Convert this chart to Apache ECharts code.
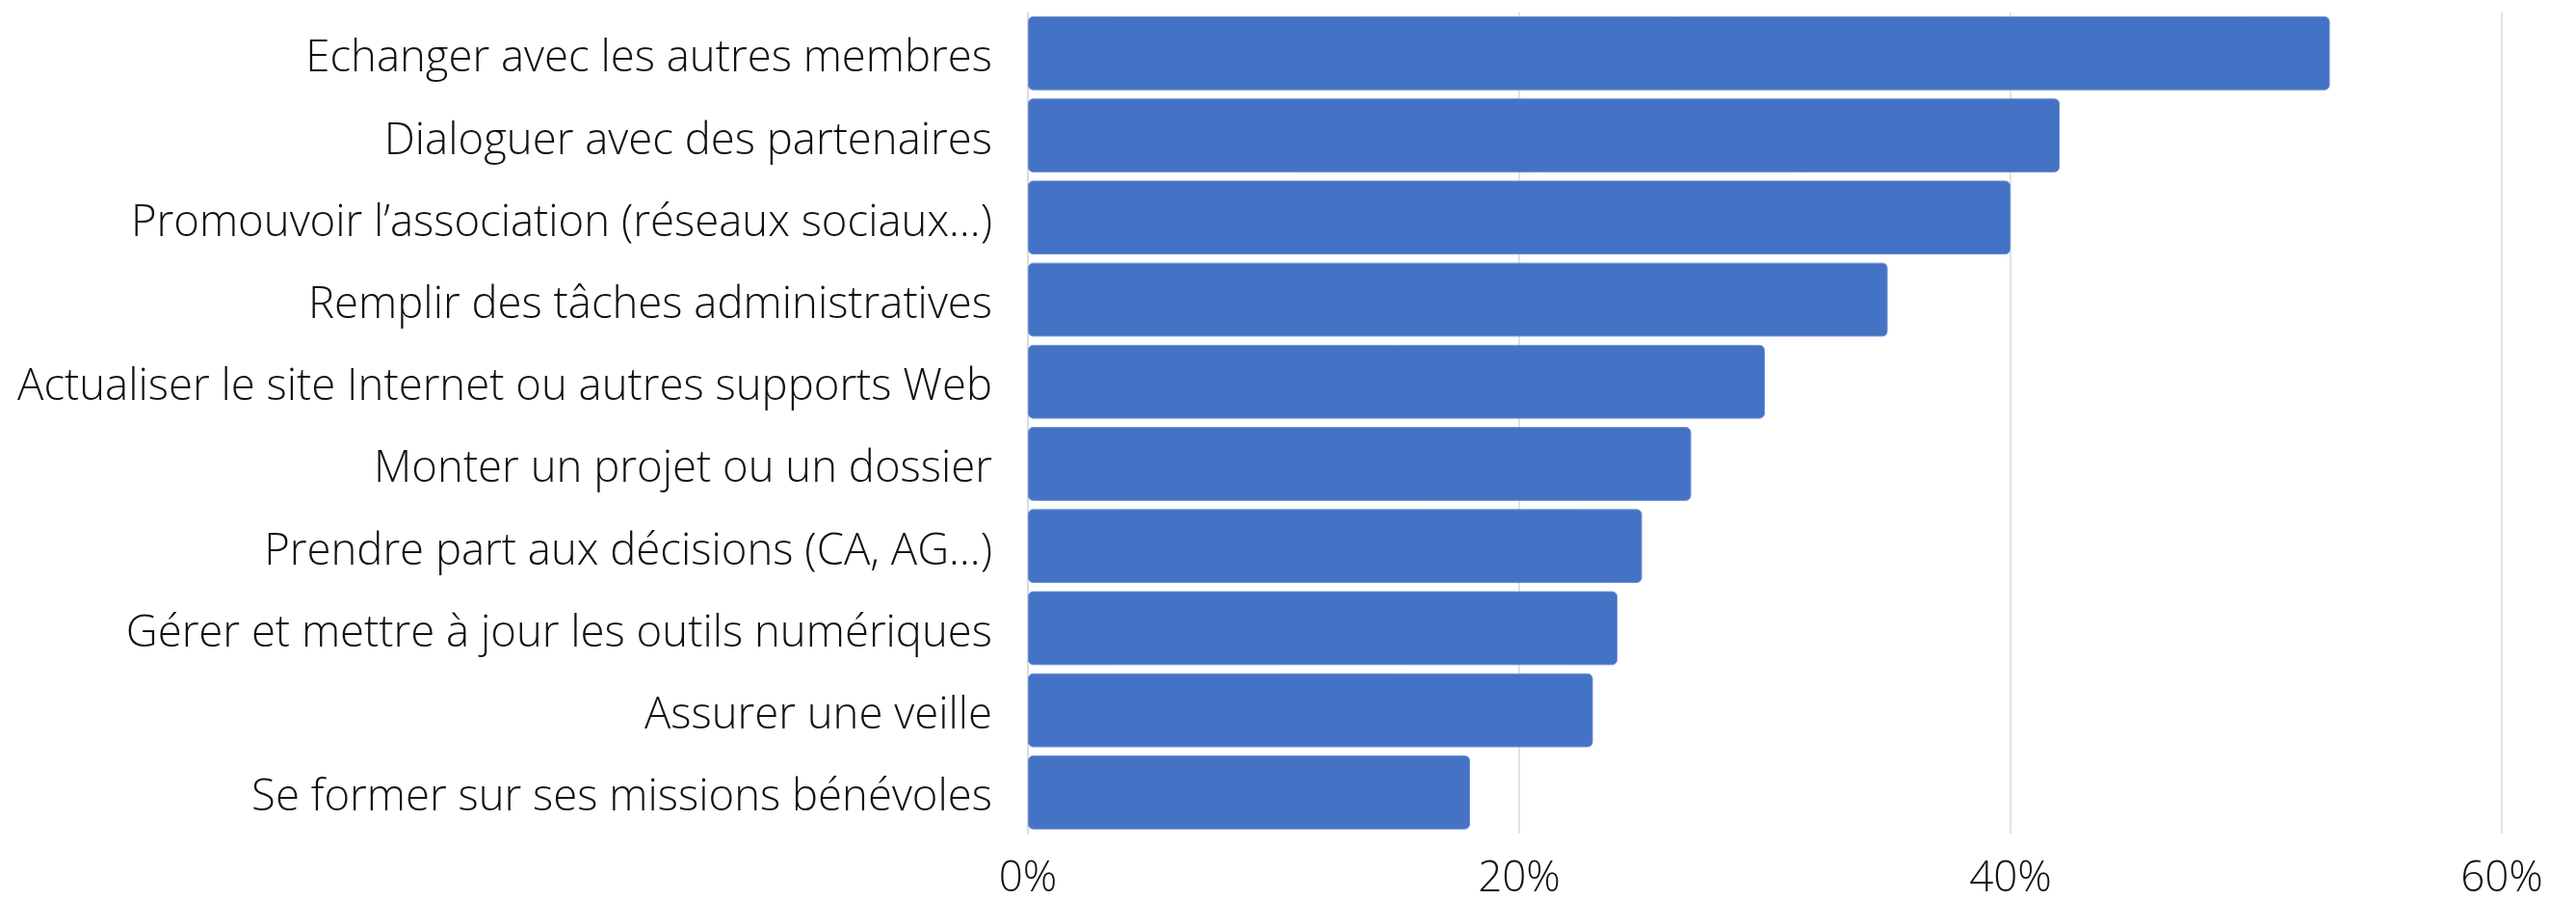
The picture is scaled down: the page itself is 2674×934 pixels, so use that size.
<!DOCTYPE html>
<html><head><meta charset="utf-8">
<script src="https://cdn.jsdelivr.net/npm/echarts@6/dist/echarts.min.js"></script>
<style>html,body{margin:0;padding:0;background:#fff}#c{width:2674px;height:934px}</style>
</head><body><div id="c"></div>
<script>
const categories = [
  "Echanger avec les autres membres",
  "Dialoguer avec des partenaires",
  "Promouvoir l’association (réseaux sociaux…)",
  "Remplir des tâches administratives",
  "Actualiser le site Internet ou autres supports Web",
  "Monter un projet ou un dossier",
  "Prendre part aux décisions (CA, AG…)",
  "Gérer et mettre à jour les outils numériques",
  "Assurer une veille",
  "Se former sur ses missions bénévoles"
];
const values = [53, 42, 40, 35, 30, 27, 25, 24, 23, 18];
const xTicks = { min: 0, max: 60, interval: 20 };

const chart = echarts.init(document.getElementById('c'), null, {renderer: 'canvas'});
chart.setOption({
  animation: false,
  backgroundColor: '#ffffff',
  grid: { left: 1067, right: 77, top: 12.7, bottom: 67.7, containLabel: false },
  xAxis: {
    type: 'value', min: xTicks.min, max: xTicks.max, interval: xTicks.interval,
    axisLine: { show: false }, axisTick: { show: false },
    splitLine: { show: true, lineStyle: { color: '#d9d9d9', width: 1.5 } },
    axisLabel: { formatter: '{value}%', color: '#111', fontFamily: 'Open Sans', fontWeight: 300, fontSize: 44, margin: 25 }
  },
  yAxis: {
    type: 'category', data: categories, inverse: true,
    axisLine: { show: true, lineStyle: { color: '#d9d9d9', width: 1.5 } },
    axisTick: { show: false },
    axisLabel: {
      margin: 37,
      formatter: v => '{a|' + v + '}',
      rich: { a: { color: '#111', fontFamily: 'Open Sans', fontWeight: 300, fontSize: 45.5, padding: [12, 0, 0, 0] } }
    }
  },
  series: [{
    type: 'bar', data: values, barCategoryGap: '10%',
    itemStyle: { color: '#4472C4', borderRadius: 5, borderColor: '#6a8fd1', borderWidth: 1 }
  }]
});
</script></body></html>
